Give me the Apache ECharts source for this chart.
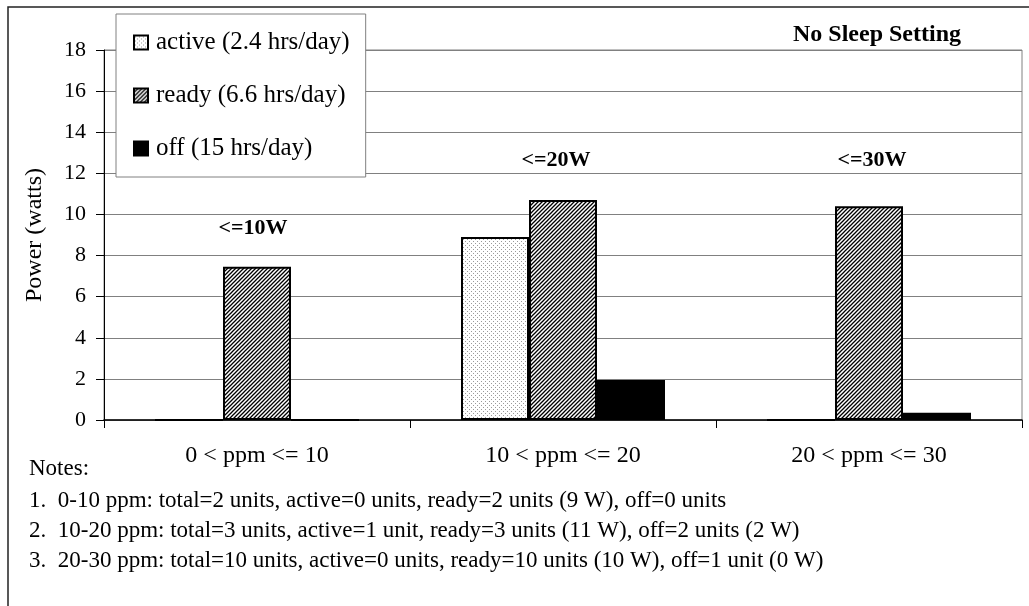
<!DOCTYPE html>
<html>
<head>
<meta charset="utf-8">
<script src="https://cdn.jsdelivr.net/npm/echarts@6/dist/echarts.min.js"></script>
<style>
  html, body { margin: 0; padding: 0; background: #fff; }
  #chart { width: 1029px; height: 606px; }
</style>
</head>
<body>
<div id="chart"></div>
<script>
// 数据
const categories = ["0 < ppm <= 10", "10 < ppm <= 20", "20 < ppm <= 30"];
const activeData = [0, 8.9, 0];
const readyData = [7.45, 10.7, 10.4];
const offData = [0, 1.95, 0.35];
const seriesNames = ["active (2.4 hrs/day)", "ready (6.6 hrs/day)", "off (15 hrs/day)"];
const limitLabels = ["<=10W", "<=20W", "<=30W"];
const notes = [
  "Notes:",
  "1.  0-10 ppm: total=2 units, active=0 units, ready=2 units (9 W), off=0 units",
  "2.  10-20 ppm: total=3 units, active=1 unit, ready=3 units (11 W), off=2 units (2 W)",
  "3.  20-30 ppm: total=10 units, active=0 units, ready=10 units (10 W), off=1 unit (0 W)",
];

const FONT = "'Liberation Serif', 'DejaVu Serif', serif";

// 斜线填充
const makeHatch = () => {
  const c = document.createElement("canvas");
  c.width = 4;
  c.height = 4;
  const g = c.getContext("2d");
  g.fillStyle = "#fff";
  g.fillRect(0, 0, 4, 4);
  g.strokeStyle = "#000";
  g.lineWidth = 1.3;
  g.beginPath();
  g.moveTo(-1, 1); g.lineTo(1, -1);
  g.moveTo(0, 4); g.lineTo(4, 0);
  g.moveTo(3, 5); g.lineTo(5, 3);
  g.stroke();
  return c;
};

// 点状填充
const makeDots = () => {
  const c = document.createElement("canvas");
  c.width = 4;
  c.height = 4;
  const g = c.getContext("2d");
  g.fillStyle = "#fff";
  g.fillRect(0, 0, 4, 4);
  g.fillStyle = "#9a9a9a";
  g.fillRect(1, 1, 1, 1);
  g.fillRect(3, 3, 1, 1);
  return c;
};

const chart = echarts.init(document.getElementById("chart"));

const barStyle = (fill) => ({
  color: fill,
  borderColor: "#000",
  borderWidth: 2,
});

const option = {
  animation: false,
  grid: {
    left: 104,
    right: 7,
    top: 50,
    bottom: 186,
    show: true,
    borderColor: "#808080",
    borderWidth: 1,
  },
  legend: {
    orient: "vertical",
    left: 116,
    top: 14,
    padding: [16, 16, 16, 17],
    itemGap: 28,
    itemWidth: 14,
    itemHeight: 14,
    icon: "rect",
    backgroundColor: "#fff",
    borderColor: "#808080",
    borderWidth: 1,
    textStyle: { fontFamily: FONT, fontSize: 25, color: "#000", padding: [0, 0, 0, 3] },
    data: seriesNames,
  },
  xAxis: {
    type: "category",
    data: categories,
    axisLine: { lineStyle: { color: "#000", width: 1.5 } },
    axisTick: { show: true, interval: 0, length: 8, lineStyle: { color: "#000" } },
    axisLabel: { fontFamily: FONT, fontSize: 24, color: "#000", margin: 24 },
  },
  yAxis: {
    type: "value",
    min: 0,
    max: 18,
    interval: 2,
    name: "Power (watts)",
    nameLocation: "middle",
    nameRotate: 90,
    nameGap: 57,
    nameTextStyle: { fontFamily: FONT, fontSize: 24, color: "#000" },
    axisLine: { show: true, lineStyle: { color: "#000", width: 1 } },
    axisTick: { show: true, length: 8, lineStyle: { color: "#000" } },
    axisLabel: { fontFamily: FONT, fontSize: 22, color: "#000", margin: 18 },
    splitLine: { show: true, lineStyle: { color: "#808080", width: 1 } },
  },
  series: [
    {
      name: seriesNames[0],
      type: "bar",
      data: activeData,
      barWidth: 68,
      barGap: "0%",
      itemStyle: barStyle({ image: makeDots(), repeat: "repeat" }),
    },
    {
      name: seriesNames[1],
      type: "bar",
      data: readyData,
      barWidth: 68,
      barGap: "0%",
      itemStyle: barStyle({ image: makeHatch(), repeat: "repeat" }),
    },
    {
      name: seriesNames[2],
      type: "bar",
      data: offData,
      barWidth: 68,
      barGap: "0%",
      itemStyle: barStyle("#000"),
    },
  ],
  graphic: [
    // 外框
    {
      type: "rect",
      z: -10,
      shape: { x: 8, y: 7, width: 1100, height: 700 },
      style: { fill: "none", stroke: "#222", lineWidth: 1.5 },
    },
    {
      type: "text",
      x: 793,
      y: 35,
      style: { text: "No Sleep Setting", font: "bold 24px " + FONT, fill: "#000", verticalAlign: "middle" },
    },
    {
      type: "text",
      x: 253,
      y: 228,
      style: { text: limitLabels[0], font: "bold 22px " + FONT, fill: "#000", align: "center", verticalAlign: "middle" },
    },
    {
      type: "text",
      x: 556,
      y: 160,
      style: { text: limitLabels[1], font: "bold 22px " + FONT, fill: "#000", align: "center", verticalAlign: "middle" },
    },
    {
      type: "text",
      x: 872,
      y: 160,
      style: { text: limitLabels[2], font: "bold 22px " + FONT, fill: "#000", align: "center", verticalAlign: "middle" },
    },
    ...notes.map((t, i) => ({
      type: "text",
      x: 29,
      y: [469, 501, 531, 561][i],
      style: { text: t, font: "23px " + FONT, fill: "#000", verticalAlign: "middle" },
    })),
  ],
};

chart.setOption(option);
window.addEventListener("resize", () => {
  chart.resize();
});
</script>
</body>
</html>
